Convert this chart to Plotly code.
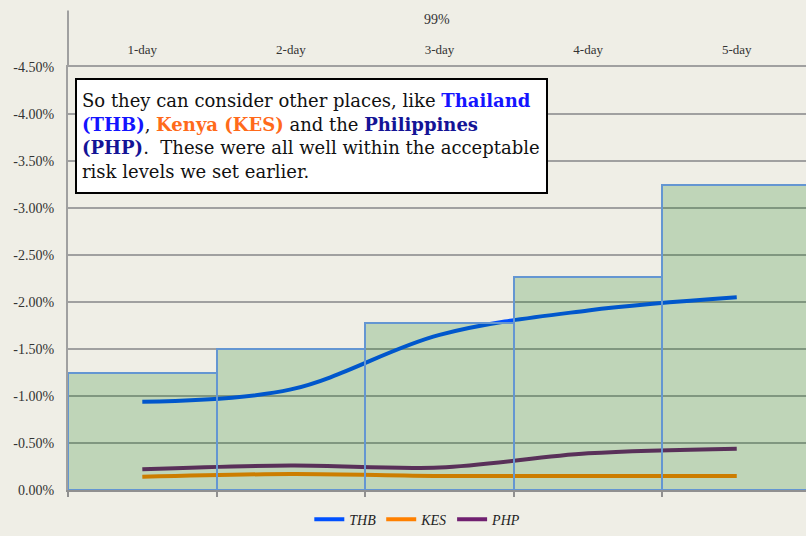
import plotly.graph_objects as go

# Holding periods and 99% VaR of the benchmark (bars) plus three currencies (lines), in %
horizons = ["1-day", "2-day", "3-day", "4-day", "5-day"]
var_99 = [-1.25, -1.50, -1.78, -2.27, -3.25]
thb = [-0.94, -1.07, -1.65, -1.91, -2.05]
kes = [-0.14, -0.17, -0.15, -0.15, -0.15]
php = [-0.22, -0.26, -0.24, -0.39, -0.44]

series_names = ["THB", "KES", "PHP"]
series_values = [thb, kes, php]
series_colors = ["#0050ff", "#ff8000", "#702070"]

y_ticks = [0, -0.5, -1.0, -1.5, -2.0, -2.5, -3.0, -3.5, -4.0, -4.5]
y_tick_labels = ["0.00%", "-0.50%", "-1.00%", "-1.50%", "-2.00%", "-2.50%",
                 "-3.00%", "-3.50%", "-4.00%", "-4.50%"]

header = "99%"
note = ("So they can consider other places, like "
        "<b><span style='color:#1414ff'>Thailand</span></b><br>"
        "<b><span style='color:#1414ff'>(THB)</span></b>, "
        "<b><span style='color:#ff6a1a'>Kenya (KES)</span></b> and the "
        "<b><span style='color:#141496'>Philippines</span></b><br>"
        "<b><span style='color:#141496'>(PHP)</span></b>.&nbsp; These were all well within the acceptable<br>"
        "risk levels we set earlier.")

BG = "#efeee6"
AXIS = "#a0a0a0"
FONT = "Liberation Serif"
x_range = [-0.5, 4.466]
y_range = [0, -4.5]
# category edges, used for the separator ticks in the header band
edges = [i - 0.5 for i in range(len(horizons) + 1)]

fig = go.Figure()

for name, vals, col in zip(series_names, series_values, series_colors):
    fig.add_trace(go.Scatter(
        x=horizons, y=vals, name=name, mode="lines",
        line=dict(color=col, width=4, shape="spline", smoothing=1.0),
        xaxis="x", yaxis="y",
    ))

# translucent step bars sit on an overlaid subplot so they tint the lines beneath
fig.add_trace(go.Bar(
    x=horizons, y=var_99, showlegend=False,
    marker=dict(color="rgba(0,113,0,0.2)", line=dict(color="#6496d2", width=2)),
    xaxis="x2", yaxis="y2",
))

fig.update_layout(
    width=806, height=536,
    margin=dict(l=68, r=0, t=67, b=43),
    paper_bgcolor=BG, plot_bgcolor=BG,
    bargap=0,
    font=dict(family=FONT, color="#333333"),
    xaxis=dict(
        type="category", categoryorder="array", categoryarray=horizons,
        range=x_range, side="top", ticks="", ticklabelstandoff=6,
        showline=True, linecolor=AXIS, linewidth=2, showgrid=False,
        tickfont=dict(size=13, family=FONT, color="#333333"),
    ),
    xaxis2=dict(
        type="category", categoryorder="array", categoryarray=horizons,
        range=x_range, overlaying="x", side="bottom", anchor="y2",
        tickson="boundaries", ticks="outside", ticklen=5, tickwidth=2,
        tickcolor="#909090", showticklabels=False,
        showline=True, linecolor="#909090", linewidth=2, showgrid=False,
    ),
    xaxis3=dict(
        type="linear", range=x_range, overlaying="x", side="top", anchor="y",
        tickmode="array", tickvals=edges, ticks="outside", ticklen=29,
        tickwidth=2, tickcolor=AXIS, showticklabels=False,
        showline=False, showgrid=False, zeroline=False,
    ),
    yaxis=dict(
        range=y_range, tickvals=y_ticks, ticktext=y_tick_labels,
        showgrid=True, gridcolor=AXIS, gridwidth=2, zeroline=False,
        showline=True, linecolor=AXIS, linewidth=2,
        ticks="outside", ticklen=9, tickcolor="rgba(0,0,0,0)",
        tickfont=dict(size=14, family=FONT, color="#333333"),
    ),
    yaxis2=dict(range=y_range, overlaying="y", visible=False),
    legend=dict(
        orientation="h", x=0.474, xanchor="center", y=-0.07, yanchor="middle",
        font=dict(size=14, family=FONT, color="#222222", style="italic"),
        bgcolor="rgba(0,0,0,0)", itemwidth=30, tracegroupgap=0,
    ),
    showlegend=True,
)

fig.add_annotation(
    text=header, xref="paper", yref="paper", x=0.5, y=1 + 48 / 426,
    xanchor="center", yanchor="middle", showarrow=False,
    font=dict(size=14, family=FONT, color="#333333"),
)

fig.add_annotation(
    text=note, xref="paper", yref="paper", x=7 / 738, y=1 - 11 / 426,
    xanchor="left", yanchor="top", showarrow=False, align="left",
    valign="middle",
    bgcolor="white", bordercolor="black", borderwidth=2, borderpad=5,
    width=459, height=102,
    font=dict(size=18, family="DejaVu Serif", color="#111111"),
)

# left axis line continues up through the header band
fig.add_shape(type="line", xref="paper", yref="paper", x0=0, x1=0,
              y0=1, y1=1 + 57 / 426, line=dict(color=AXIS, width=2))

fig.write_html("out.html")
